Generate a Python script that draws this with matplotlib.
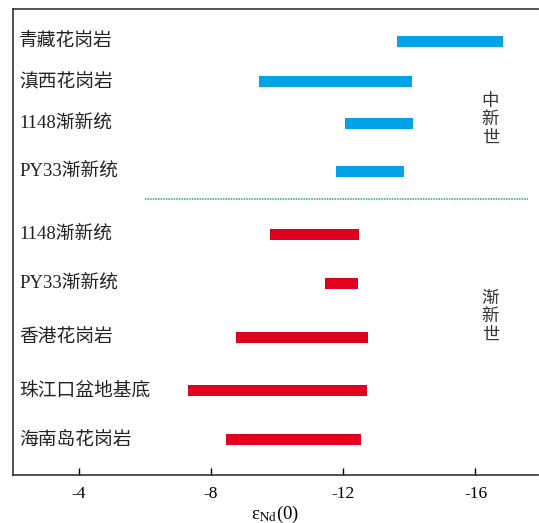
import matplotlib.pyplot as plt
from matplotlib.transforms import blended_transform_factory

plt.rcParams['font.family'] = ['Liberation Serif', 'Noto Sans CJK SC']
plt.rcParams['mathtext.fontset'] = 'stix'

# εNd(0) ranges, top to bottom
labels = ['青藏花岗岩', '滇西花岗岩', '1148渐新统', 'PY33渐新统',
          '1148渐新统', 'PY33渐新统', '香港花岗岩', '珠江口盆地基底', '海南岛花岗岩']
eps_lo = [-13.64, -9.45, -12.05, -11.78, -9.78, -11.46, -8.77, -7.29, -8.46]
eps_hi = [-16.83, -14.08, -14.12, -13.85, -12.48, -12.44, -12.76, -12.71, -12.54]
epoch = ['中新世'] * 4 + ['渐新世'] * 5
xticks = [-4, -8, -12, -16]

# row layout (top = 0)
rows = [32, 72, 114, 162, 225, 274, 328, 382, 431]
sep_y = 190
colors = {'中新世': '#00a3e8', '渐新世': '#e0001e'}

fig = plt.figure(figsize=(5.39, 5.23), dpi=100)
ax = fig.add_axes([0.0236, 0.092, 0.975, 0.890])

for y, lo, hi, ep in zip(rows, eps_lo, eps_hi, epoch):
    ax.barh(y, hi - lo, left=lo, height=11, color=colors[ep])

ax.plot([-6.0, -17.6], [sep_y, sep_y], ls=(0, (1, 0.7)), lw=1.1, color='#1fae5e')

tr = blended_transform_factory(ax.transAxes, ax.transData)
for y, lab in zip(rows, labels):
    ax.text(0.012, y, lab, transform=tr, ha='left', va='center',
            fontsize=13.5, color='#222222')

ax.text(-16.45, 110, '中\n新\n世', ha='center', va='center', fontsize=12.5,
        linespacing=1.02, color='#333333', family=['Noto Sans CJK SC'])
ax.text(-16.45, 307, '渐\n新\n世', ha='center', va='center', fontsize=12.5,
        linespacing=1.02, color='#333333', family=['Noto Sans CJK SC'])

ax.set_xlim(-2.0, -17.9)
ax.set_ylim(466, 0)
ax.set_xticks(xticks)
ax.set_xticklabels([str(t) for t in xticks], fontsize=12.5)
ax.set_yticks([])
ax.tick_params(axis='x', direction='in', length=5, width=1, pad=8)
ax.spines['right'].set_visible(False)
for s in ['left', 'top', 'bottom']:
    ax.spines[s].set_linewidth(1.2)
    ax.spines[s].set_color('#333333')

ax.set_xlabel(r'ε$_{\mathrm{Nd}}$(0)', fontsize=13.5, labelpad=1)

fig.savefig('out.png', dpi=100)
